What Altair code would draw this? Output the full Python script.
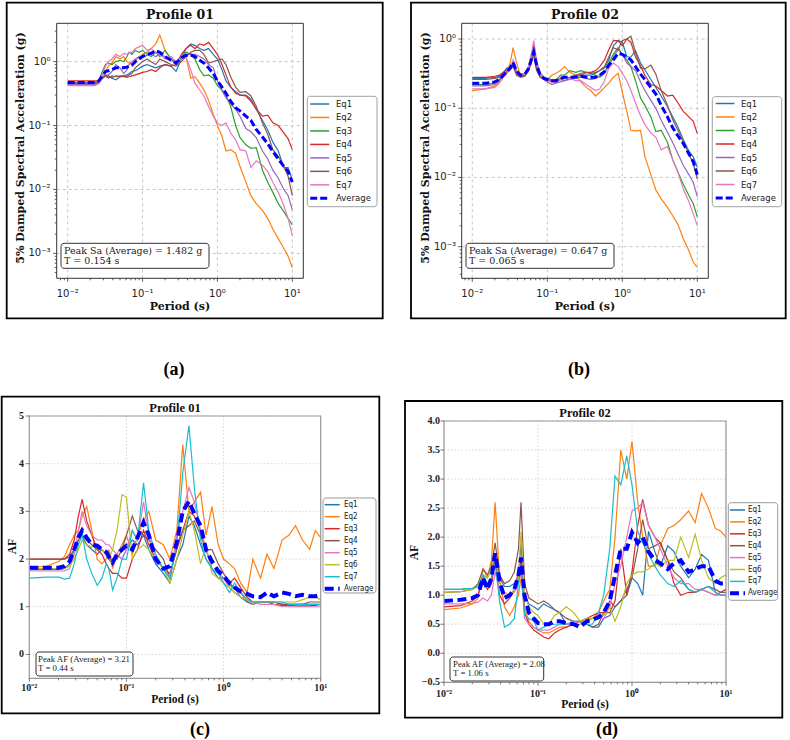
import altair as alt
import pandas as pd

# ---------------- data ----------------
periods = [0.01, 0.015, 0.02, 0.023, 0.026, 0.029, 0.032, 0.035, 0.039, 0.044,
           0.05, 0.056, 0.062, 0.066, 0.072, 0.08, 0.09, 0.1, 0.115, 0.13,
           0.15, 0.17, 0.2, 0.24, 0.28, 0.33, 0.38, 0.44, 0.5, 0.58,
           0.66, 0.76, 0.88, 1.0, 1.15, 1.3, 1.5, 1.75, 2.0, 2.4,
           2.8, 3.3, 4.0, 4.7, 5.5, 6.5, 7.7, 8.8, 10.0]
series_names = ["Eq1", "Eq2", "Eq3", "Eq4", "Eq5", "Eq6", "Eq7", "Average"]

# (a) Profile 01 - spectral acceleration (g)
a_eq1 = [0.47, 0.47, 0.47, 0.47, 0.49, 0.55, 0.62, 0.6, 0.55, 0.52,
         0.58, 0.6, 0.62, 0.65, 0.7, 0.72, 0.78, 0.85, 0.9, 0.85,
         0.8, 0.85, 0.9, 0.85, 0.7, 1.1, 1.6, 1.9, 1.8, 1.6,
         1.5, 1.6, 1.3, 1.1, 0.75, 0.5, 0.4, 0.34, 0.3, 0.3,
         0.26, 0.18, 0.12, 0.085, 0.055, 0.04, 0.022, 0.022, 0.014]
a_eq2 = [0.46, 0.46, 0.46, 0.46, 0.47, 0.55, 0.7, 0.85, 0.95, 1.2,
         1.1, 1.2, 1.0, 0.95, 0.9, 1.0, 1.2, 1.3, 1.4, 1.6,
         1.9, 2.6, 1.5, 1.1, 0.95, 1.1, 1.2, 0.55, 0.58, 0.46,
         0.36, 0.25, 0.15, 0.1, 0.068, 0.04, 0.042, 0.037, 0.023, 0.013,
         0.008, 0.006, 0.0047, 0.0035, 0.0024, 0.0017, 0.0012, 0.0009, 0.0006]
a_eq3 = [0.45, 0.45, 0.45, 0.45, 0.5, 0.7, 0.9, 0.95, 0.9, 1.0,
         1.05, 1.0, 1.2, 1.4, 1.3, 1.5, 1.4, 1.5, 1.3, 1.2,
         1.4, 1.2, 1.5, 1.1, 0.9, 1.2, 1.4, 1.3, 1.1, 0.75,
         0.6, 0.62, 0.55, 0.42, 0.36, 0.3, 0.2, 0.1, 0.065, 0.05,
         0.044, 0.045, 0.02, 0.013, 0.009, 0.006, 0.0045, 0.0035, 0.0028]
a_eq4 = [0.5, 0.5, 0.5, 0.5, 0.5, 0.55, 0.6, 0.58, 0.56, 0.6,
         0.58, 0.58, 0.57, 0.58, 0.6, 0.62, 0.65, 0.68, 0.7, 0.75,
         0.7, 0.8, 0.9, 0.85, 0.9, 1.3, 1.6, 1.8, 1.6, 1.9,
         1.8, 2.0, 1.6, 1.3, 0.9, 0.62, 0.4, 0.32, 0.3, 0.29,
         0.24, 0.18, 0.14, 0.145, 0.11, 0.1, 0.077, 0.062, 0.042]
a_eq5 = [0.44, 0.44, 0.44, 0.44, 0.46, 0.55, 0.6, 0.62, 0.7, 0.9,
         0.8, 0.65, 0.75, 0.9, 1.0, 1.1, 1.2, 1.2, 1.25, 1.3,
         1.2, 1.3, 1.2, 1.1, 1.0, 1.2, 1.3, 1.3, 1.3, 1.2,
         1.1, 0.9, 0.8, 0.5, 0.35, 0.27, 0.22, 0.18, 0.14, 0.09,
         0.08, 0.065, 0.04, 0.03, 0.02, 0.015, 0.01, 0.008, 0.0048]
a_eq6 = [0.46, 0.46, 0.46, 0.46, 0.48, 0.55, 0.6, 0.55, 0.6, 0.58,
         0.6, 0.6, 0.58, 0.62, 0.65, 0.8, 0.9, 1.0, 1.1, 1.0,
         0.9, 1.1, 1.0, 0.9, 0.85, 1.0, 1.2, 1.4, 1.5, 1.5,
         1.3, 0.95, 1.0, 1.05, 1.1, 0.9, 0.58, 0.4, 0.33, 0.34,
         0.29, 0.2, 0.11, 0.073, 0.042, 0.033, 0.023, 0.016, 0.008]
a_eq7 = [0.42, 0.42, 0.42, 0.42, 0.45, 0.6, 0.85, 1.0, 1.1, 1.3,
         1.2, 1.35, 1.3, 1.4, 1.4, 1.6, 1.7, 1.8, 1.5, 1.6,
         1.4, 1.3, 1.1, 1.2, 1.0, 1.1, 1.2, 0.75, 0.46, 0.36,
         0.29, 0.2, 0.14, 0.11, 0.1, 0.11, 0.077, 0.06, 0.042, 0.04,
         0.022, 0.028, 0.024, 0.019, 0.013, 0.009, 0.0056, 0.0035, 0.0019]
a_avg = [0.47, 0.47, 0.47, 0.47, 0.5, 0.6, 0.7, 0.72, 0.75, 0.8,
         0.8, 0.8, 0.82, 0.85, 0.88, 1.0, 1.1, 1.2, 1.3, 1.35,
         1.48, 1.4, 1.2, 1.05, 0.95, 1.15, 1.25, 1.27, 1.2, 1.05,
         0.95, 0.8, 0.65, 0.5, 0.4, 0.32, 0.24, 0.19, 0.17, 0.14,
         0.12, 0.087, 0.066, 0.052, 0.039, 0.03, 0.023, 0.019, 0.013]

# (b) Profile 02 - spectral acceleration (g)
b_eq1 = [0.27, 0.27, 0.28, 0.29, 0.33, 0.38, 0.4, 0.45, 0.33, 0.3,
         0.32, 0.38, 0.5, 0.6, 0.4, 0.32, 0.28, 0.26, 0.25, 0.25,
         0.26, 0.25, 0.27, 0.28, 0.3, 0.3, 0.3, 0.32, 0.35, 0.38,
         0.5, 0.8, 0.95, 0.9, 0.55, 0.55, 0.68, 0.45, 0.36, 0.26,
         0.2, 0.15, 0.105, 0.075, 0.054, 0.035, 0.024, 0.02, 0.014]
b_eq2 = [0.18, 0.19, 0.21, 0.24, 0.3, 0.33, 0.45, 0.75, 0.45, 0.3,
         0.31, 0.35, 0.5, 0.7, 0.4, 0.3, 0.27, 0.26, 0.3, 0.32,
         0.35, 0.4, 0.33, 0.3, 0.24, 0.2, 0.18, 0.15, 0.17, 0.2,
         0.23, 0.28, 0.32, 0.17, 0.09, 0.048, 0.047, 0.048, 0.02, 0.011,
         0.0066, 0.0049, 0.0037, 0.0028, 0.0021, 0.0013, 0.00088, 0.0006, 0.0005]
b_eq3 = [0.22, 0.22, 0.23, 0.26, 0.3, 0.33, 0.37, 0.45, 0.33, 0.3,
         0.32, 0.38, 0.6, 0.85, 0.45, 0.32, 0.28, 0.27, 0.26, 0.25,
         0.3, 0.3, 0.35, 0.33, 0.35, 0.33, 0.32, 0.3, 0.28, 0.32,
         0.45, 0.6, 0.75, 0.6, 0.5, 0.4, 0.25, 0.14, 0.11, 0.075,
         0.046, 0.048, 0.032, 0.018, 0.012, 0.008, 0.0055, 0.0042, 0.0027]
b_eq4 = [0.28, 0.28, 0.29, 0.3, 0.33, 0.36, 0.38, 0.42, 0.32, 0.29,
         0.3, 0.35, 0.5, 0.62, 0.38, 0.3, 0.27, 0.26, 0.25, 0.24,
         0.27, 0.28, 0.27, 0.3, 0.3, 0.33, 0.33, 0.35, 0.4, 0.5,
         0.7, 0.95, 0.95, 0.8, 1.0, 0.9, 0.55, 0.41, 0.3, 0.22,
         0.21, 0.18, 0.15, 0.155, 0.12, 0.09, 0.075, 0.065, 0.043]
b_eq5 = [0.21, 0.21, 0.22, 0.25, 0.3, 0.33, 0.36, 0.42, 0.32, 0.29,
         0.3, 0.36, 0.5, 0.65, 0.38, 0.3, 0.26, 0.24, 0.22, 0.23,
         0.24, 0.25, 0.26, 0.28, 0.28, 0.27, 0.26, 0.27, 0.3, 0.33,
         0.4, 0.55, 0.7, 0.6, 0.45, 0.4, 0.35, 0.24, 0.18, 0.13,
         0.1, 0.067, 0.045, 0.032, 0.022, 0.015, 0.011, 0.0085, 0.0053]
b_eq6 = [0.26, 0.26, 0.27, 0.28, 0.31, 0.34, 0.36, 0.4, 0.3, 0.28,
         0.29, 0.34, 0.48, 0.6, 0.35, 0.28, 0.26, 0.25, 0.24, 0.24,
         0.26, 0.27, 0.28, 0.3, 0.32, 0.33, 0.32, 0.33, 0.35, 0.4,
         0.55, 0.75, 0.7, 0.95, 1.0, 1.1, 0.65, 0.38, 0.37, 0.42,
         0.31, 0.18, 0.11, 0.068, 0.048, 0.032, 0.022, 0.016, 0.0095]
b_eq7 = [0.19, 0.19, 0.2, 0.23, 0.28, 0.32, 0.36, 0.5, 0.35, 0.3,
         0.32, 0.4, 0.65, 0.95, 0.5, 0.32, 0.27, 0.25, 0.24, 0.24,
         0.26, 0.27, 0.27, 0.25, 0.25, 0.22, 0.2, 0.18, 0.19, 0.25,
         0.38, 0.45, 0.4, 0.32, 0.25, 0.18, 0.12, 0.078, 0.058, 0.044,
         0.038, 0.025, 0.028, 0.018, 0.012, 0.0068, 0.0045, 0.003, 0.002]
b_avg = [0.23, 0.23, 0.24, 0.26, 0.3, 0.34, 0.38, 0.46, 0.34, 0.3,
         0.31, 0.37, 0.52, 0.647, 0.42, 0.31, 0.27, 0.26, 0.25, 0.25,
         0.27, 0.28, 0.28, 0.28, 0.29, 0.28, 0.28, 0.28, 0.3, 0.34,
         0.42, 0.5, 0.62, 0.6, 0.55, 0.5, 0.4, 0.31, 0.26, 0.2,
         0.16, 0.11, 0.075, 0.052, 0.04, 0.031, 0.022, 0.017, 0.011]

# (c) Profile 01 - amplification factor
c_eq1 = [1.78, 1.78, 1.78, 1.8, 1.9, 2.2, 2.4, 2.5, 2.3, 2.2,
         2.1, 2.2, 2.1, 2.0, 1.9, 2.1, 2.0, 2.2, 2.4, 2.3,
         2.5, 2.2, 1.9, 1.7, 1.5, 2.0, 2.3, 2.9, 2.7, 2.3,
         2.0, 1.8, 1.6, 1.6, 1.45, 1.4, 1.2, 1.1, 1.1, 1.1,
         1.1, 1.1, 1.05, 1.05, 1.05, 1.05, 1.05, 1.05, 1.05]
c_eq2 = [1.82, 1.85, 1.95, 2.05, 2.3, 2.5, 2.6, 2.9, 3.1, 2.6,
         2.0, 1.9, 2.0, 2.2, 1.8, 2.1, 2.3, 2.5, 2.1, 2.5,
         2.8, 3.0, 2.4, 2.3, 2.0, 2.6, 4.4, 3.0, 3.2, 3.4,
         2.5, 3.1, 2.3, 2.0, 1.9, 1.8, 1.5, 1.3, 2.0, 1.6,
         2.1, 1.8, 2.4, 2.5, 2.7, 2.4, 2.2, 2.6, 2.45]
c_eq3 = [2.0, 2.0, 2.0, 2.0, 2.1, 2.4, 2.9, 3.25, 2.8, 2.5,
         2.2, 2.1, 1.9, 1.8, 1.7, 1.7, 1.6, 1.6, 2.0, 2.2,
         2.6, 2.3, 2.0, 1.8, 1.7, 2.2, 2.6, 3.0, 2.9, 2.6,
         2.2, 1.8, 1.7, 1.6, 1.5, 1.6, 1.4, 1.2, 1.1, 1.1,
         1.1, 1.05, 1.03, 1.03, 1.02, 1.02, 1.02, 1.03, 1.05]
c_eq4 = [2.0, 2.0, 2.0, 2.0, 2.05, 2.2, 2.4, 2.5, 2.4, 2.3,
         2.2, 2.2, 2.1, 2.0, 2.0, 2.0, 2.2, 2.5, 2.9, 2.6,
         2.5, 2.4, 2.2, 2.0, 1.6, 2.3, 2.6, 2.7, 2.8, 2.5,
         2.2, 2.2, 1.9, 1.7, 1.5, 1.4, 1.3, 1.1, 1.05, 1.1,
         1.1, 1.1, 1.05, 1.05, 1.05, 1.05, 1.1, 1.1, 1.1]
c_eq5 = [1.75, 1.75, 1.75, 1.75, 1.8, 2.1, 2.6, 3.0, 2.7, 2.5,
         2.4, 2.4, 2.3, 2.3, 2.2, 2.1, 2.0, 2.2, 2.6, 2.4,
         3.2, 2.5, 2.0, 1.8, 1.6, 2.5, 3.0, 3.5, 3.2, 2.6,
         2.2, 1.8, 1.7, 1.6, 1.4, 1.3, 1.2, 1.15, 1.1, 1.05,
         1.05, 1.05, 1.0, 1.0, 1.0, 1.0, 1.0, 1.0, 1.0]
c_eq6 = [1.8, 1.8, 1.8, 1.8, 1.85, 2.0, 2.2, 2.4, 2.3, 2.25,
         2.3, 2.2, 2.1, 2.0, 2.2, 2.6, 3.35, 3.3, 2.0, 2.2,
         2.3, 2.2, 2.0, 1.8, 1.5, 2.0, 2.5, 3.0, 2.6, 1.9,
         2.3, 1.7, 1.6, 1.5, 1.4, 1.3, 1.2, 1.15, 1.1, 1.1,
         1.1, 1.1, 1.1, 1.1, 1.1, 1.15, 1.2, 1.2, 1.15]
c_eq7 = [1.6, 1.62, 1.62, 1.58, 1.6, 1.9, 2.3, 2.5, 2.0, 1.7,
         1.45, 1.6, 1.9, 1.8, 1.35, 1.6, 2.0, 2.0, 2.6, 2.4,
         3.6, 2.6, 2.1, 1.8, 1.6, 2.3, 3.8, 4.8, 3.5, 2.4,
         2.0, 1.8, 1.7, 1.5, 1.3, 1.5, 1.3, 1.15, 1.1, 1.1,
         1.1, 1.1, 1.1, 1.05, 1.05, 1.05, 1.05, 1.05, 1.05]
c_avg = [1.82, 1.82, 1.82, 1.85, 1.95, 2.2, 2.45, 2.6, 2.45, 2.3,
         2.28, 2.2, 2.15, 2.05, 1.93, 2.1, 2.2, 2.28, 2.2, 2.45,
         2.77, 2.5, 2.0, 1.8, 1.85, 2.35, 3.0, 3.21, 2.95, 2.7,
         2.2, 1.95, 1.75, 1.65, 1.5, 1.4, 1.32, 1.27, 1.22, 1.2,
         1.3, 1.22, 1.3, 1.27, 1.22, 1.25, 1.22, 1.22, 1.25]

# (d) Profile 02 - amplification factor
d_eq1 = [1.1, 1.1, 1.12, 1.15, 1.3, 1.2, 1.3, 1.7, 1.3, 1.15,
         1.15, 1.2, 1.3, 1.9, 1.0, 0.85, 0.8, 0.75, 0.85, 0.8,
         0.75, 0.7, 0.5, 0.5, 0.55, 0.5, 0.45, 0.45, 0.6, 0.65,
         0.8, 0.9, 1.0, 1.3, 1.2, 1.0, 2.1, 1.75, 1.5, 1.85,
         1.75, 1.5, 1.3, 1.45, 1.7, 1.6, 1.05, 1.0, 1.0]
d_eq2 = [0.75, 0.78, 0.85, 0.95, 1.45, 1.3, 1.6, 2.6, 1.3, 0.8,
         0.65, 0.8, 1.0, 1.3, 0.8, 0.55, 0.45, 0.4, 0.35, 0.35,
         0.4, 0.45, 0.45, 0.5, 0.5, 0.55, 0.6, 0.7, 0.9, 1.1,
         2.0, 3.5, 3.0, 3.65, 2.6, 2.0, 1.5, 1.5, 1.85, 2.15,
         2.2, 2.3, 2.45, 2.25, 2.75, 2.5, 2.15, 2.1, 2.0]
d_eq3 = [0.8, 0.82, 0.9, 1.0, 1.3, 1.1, 1.2, 1.6, 1.0, 0.85,
         0.95, 1.1, 1.4, 1.6, 0.7, 0.5, 0.4, 0.35, 0.28, 0.25,
         0.35, 0.4, 0.45, 0.5, 0.55, 0.6, 0.65, 0.7, 0.7, 0.7,
         0.9, 1.8, 1.0, 1.4, 2.2, 2.65, 2.2, 2.0, 1.9, 1.6,
         1.2, 1.0, 1.05, 1.05, 1.1, 1.05, 1.0, 1.05, 1.1]
d_eq4 = [1.05, 1.06, 1.1, 1.2, 1.45, 1.35, 1.5, 1.9, 1.35, 1.2,
         1.25, 1.4, 1.8, 2.6, 1.2, 0.95, 0.9, 0.85, 0.9, 0.85,
         0.75, 0.7, 0.6, 0.55, 0.55, 0.5, 0.45, 0.5, 0.7, 0.9,
         0.8, 0.9, 1.1, 1.3, 1.8, 2.3, 1.8, 1.85, 1.9, 1.6,
         1.4, 1.3, 1.1, 1.05, 1.1, 1.15, 1.1, 1.05, 1.05]
d_eq5 = [0.85, 0.85, 0.86, 0.88, 0.95, 0.9, 1.0, 1.4, 1.1, 1.0,
         1.0, 1.05, 1.2, 1.4, 0.6, 0.5, 0.45, 0.4, 0.4, 0.4,
         0.45, 0.5, 0.5, 0.5, 0.55, 0.55, 0.6, 0.6, 0.6, 0.8,
         1.2, 1.5, 2.0, 2.45, 2.5, 2.6, 2.2, 2.0, 1.8, 1.5,
         1.3, 1.2, 1.2, 1.1, 1.1, 1.05, 1.0, 1.0, 1.0]
d_eq6 = [1.05, 1.06, 1.1, 1.15, 1.35, 1.3, 1.45, 1.7, 1.2, 1.05,
         1.0, 1.1, 1.3, 2.1, 1.0, 0.8, 0.7, 0.65, 0.5, 0.5,
         0.65, 0.7, 0.8, 0.7, 0.55, 0.6, 0.6, 0.65, 0.65, 0.8,
         0.55, 0.8, 1.2, 1.35, 1.4, 1.4, 1.45, 1.55, 1.5, 1.6,
         1.6, 2.0, 1.65, 2.05, 1.6, 1.3, 1.2, 1.3, 1.35]
d_eq7 = [1.1, 1.1, 1.12, 1.15, 1.35, 1.2, 1.3, 1.55, 0.9, 0.45,
         0.5, 0.6, 1.2, 1.5, 0.65, 0.6, 0.55, 0.4, 0.45, 0.5,
         0.5, 0.5, 0.5, 0.55, 0.55, 0.5, 0.5, 0.7, 1.0, 1.8,
         3.05, 2.9, 3.4, 2.9, 2.1, 1.9, 1.7, 1.5, 1.35, 1.2,
         1.15, 1.25, 1.1, 1.05, 1.1, 1.15, 1.05, 1.0, 1.0]
d_avg = [0.9, 0.92, 0.95, 1.0, 1.3, 1.1, 1.3, 1.72, 1.25, 0.95,
         1.0, 1.1, 1.35, 1.65, 1.0, 0.7, 0.6, 0.52, 0.5, 0.5,
         0.55, 0.55, 0.52, 0.5, 0.45, 0.55, 0.58, 0.62, 0.7, 0.9,
         1.35, 1.8, 1.8, 2.08, 1.9, 2.0, 1.75, 1.6, 1.55, 1.45,
         1.55, 1.6, 1.4, 1.45, 1.5, 1.5, 1.25, 1.2, 1.2]

panel_titles = ["Profile 01", "Profile 02", "Profile 01", "Profile 02"]
panel_letters = ["(a)", "(b)", "(c)", "(d)"]
peak_values = [1.482, 0.647, 3.21, 2.08]
peak_periods = [0.154, 0.065, 0.44, 1.06]

colors_top = ["#1f77b4", "#ff7f0e", "#2ca02c", "#d62728", "#9467bd", "#8c564b", "#e377c2", "#0000ff"]
colors_bottom = ["#1f77b4", "#ff7f0e", "#d62728", "#8c564b", "#e377c2", "#bcbd22", "#17becf", "#0000ff"]

decade_values = [0.0001, 0.001, 0.01, 0.1, 1.0, 10.0]
decade_labels = ["10⁻⁴", "10⁻³", "10⁻²", "10⁻¹", "10⁰", "10¹"]
mantissas = [2, 3, 4, 5, 6, 7, 8, 9]
af_ticks_c = [0, 1, 2, 3, 4, 5]
af_ticks_d = [-0.5, 0.0, 0.5, 1.0, 1.5, 2.0, 2.5, 3.0, 3.5, 4.0]

# ---------------- helpers ----------------
ONE = pd.DataFrame({"k": [0]})


def in_dom(v, dom):
    return dom[0] * 0.999 <= v <= dom[1] * 1.001


def major_df(dom):
    return pd.DataFrame({"v": [v for v in decade_values if in_dom(v, dom)],
                         "lab": [l for v, l in zip(decade_values, decade_labels) if in_dom(v, dom)]})


def minor_df(dom):
    return pd.DataFrame({"v": [m * d for d in decade_values for m in mantissas if in_dom(m * d, dom)]})


def rect(x0, x1, y0, y1, **kw):
    return alt.Chart(ONE).mark_rect(**kw).encode(
        x=alt.value(x0), x2=alt.value(x1), y=alt.value(y0), y2=alt.value(y1))


def label(text, x, y, **kw):
    return alt.Chart(pd.DataFrame({"t": [text]})).mark_text(**kw).encode(
        text="t:N", x=alt.value(x), y=alt.value(y))


def build_panel(p):
    x0, x1, y0, y1 = p["plot"]
    xs = alt.Scale(type="log", domain=p["xdom"], range=[x0, x1], nice=False)
    if p["ylog"]:
        ys = alt.Scale(type="log", domain=p["ydom"], range=[y1, y0], nice=False)
    else:
        ys = alt.Scale(type="linear", domain=p["ydom"], range=[y1, y0], nice=False, zero=False)

    def X(f):
        return alt.X(f, scale=xs, axis=None)

    def Y(f):
        return alt.Y(f, scale=ys, axis=None)

    rows = []
    for name, vals, col in zip(series_names, p["lists"], p["colors"]):
        for t, v in zip(periods, vals):
            rows.append({"period": t, "value": v, "series": name, "hex": col})
    df = pd.DataFrame(rows)
    df_eq = df[df["series"] != "Average"]
    df_avg = df[df["series"] == "Average"]

    xmaj = major_df(p["xdom"])
    xmin = minor_df(p["xdom"])
    if p["ylog"]:
        ymaj = major_df(p["ydom"])
        ymin = minor_df(p["ydom"])
    else:
        ymaj = pd.DataFrame({"v": p["yticks"]})
        ymin = None

    gkw = dict(color=p["grid_color"], strokeDash=p["grid_dash"], strokeWidth=0.8)
    layers = [
        alt.Chart(xmaj).mark_rule(**gkw).encode(x=X("v:Q"), y=alt.value(y0), y2=alt.value(y1)),
        alt.Chart(ymaj).mark_rule(**gkw).encode(y=Y("v:Q"), x=alt.value(x0), x2=alt.value(x1)),
        alt.Chart(df_eq).mark_line(strokeWidth=p["eq_w"]).encode(
            x=X("period:Q"), y=Y("value:Q"), color=alt.Color("hex:N", scale=None), detail="series:N"),
        alt.Chart(df_avg).mark_line(color=p["colors"][7], strokeWidth=p["avg_w"], strokeDash=p["avg_dash"]).encode(
            x=X("period:Q"), y=Y("value:Q")),
        rect(x0, x1, y0, y1, fill="white", fillOpacity=0, stroke=p["spine"], strokeWidth=p["spine_w"]),
    ]
    tkw = dict(color=p["tick_color"], strokeWidth=0.8)
    layers.append(alt.Chart(xmaj).mark_rule(**tkw).encode(x=X("v:Q"), y=alt.value(y1), y2=alt.value(y1 + 3.5)))
    layers.append(alt.Chart(xmin).mark_rule(**tkw).encode(x=X("v:Q"), y=alt.value(y1), y2=alt.value(y1 + 2)))
    layers.append(alt.Chart(ymaj).mark_rule(**tkw).encode(y=Y("v:Q"), x=alt.value(x0 - 3.5), x2=alt.value(x0)))
    if ymin is not None:
        layers.append(alt.Chart(ymin).mark_rule(**tkw).encode(y=Y("v:Q"), x=alt.value(x0 - 2), x2=alt.value(x0)))

    lkw = dict(font=p["tick_font"], fontSize=p["tick_size"], fontWeight=p["tick_weight"], color="#222")
    layers.append(alt.Chart(xmaj).mark_text(align="center", baseline="alphabetic", **lkw).encode(
        x=X("v:Q"), y=alt.value(p["xlab_base"]), text="lab:N"))
    if p["ylog"]:
        layers.append(alt.Chart(ymaj).mark_text(align="right", baseline="middle", **lkw).encode(
            y=Y("v:Q"), x=alt.value(p["ylab_right"]), text="lab:N"))
    else:
        layers.append(alt.Chart(ymaj).mark_text(align="right", baseline="middle", **lkw).encode(
            y=Y("v:Q"), x=alt.value(p["ylab_right"]), text=alt.Text("v:Q", format=p["yfmt"])))

    # titles
    akw = dict(font=p["lab_font"], fontSize=p["lab_size"], fontWeight="bold", color="#111")
    layers.append(label("Period (s)", (x0 + x1) / 2, p["xtitle_base"], align="center", baseline="alphabetic", **akw))
    layers.append(label(p["ytitle"], p["ytitle_base"], p["ytitle_cy"], align="center", baseline="alphabetic",
                        angle=270, **akw))
    layers.append(label(p["title"], (x0 + x1) / 2, p["title_base"], align="center", baseline="alphabetic",
                        font=p["title_font"], fontSize=p["title_size"], fontWeight="bold", color="#111"))

    # legend
    lg = p["legend"]
    layers.append(rect(*lg["box"], fill="white", stroke=lg["stroke"], strokeWidth=1, cornerRadius=3))
    for i, name in enumerate(series_names):
        yy = lg["row0"] + i * lg["step"]
        kw = dict(color=p["colors"][i], strokeWidth=p["eq_w"] + 0.3)
        if name == "Average":
            kw = dict(color=p["colors"][i], strokeWidth=p["avg_w"], strokeDash=p["avg_dash"])
        layers.append(alt.Chart(pd.DataFrame({"s": [name]})).mark_rule(**kw).encode(
            x=alt.value(lg["sx0"]), x2=alt.value(lg["sx1"]), y=alt.value(yy)))
        layers.append(label(name, lg["tx"], yy, align="left", baseline="middle", font=lg["font"],
                            fontSize=lg["size"], color="#222"))

    # peak annotation box
    pb = p["pbox"]
    layers.append(rect(*pb["box"], fill="white", stroke="#333", strokeWidth=1, cornerRadius=3))
    for line, yy in zip(pb["lines"], pb["ys"]):
        layers.append(label(line, pb["tx"], yy, align="left", baseline="middle", font=pb["font"],
                            fontSize=pb["size"], color="#222"))

    # outer border and panel letter
    layers.append(rect(*p["border"], fill="white", fillOpacity=0, stroke="#000", strokeWidth=1.8))
    layers.append(label(p["letter"], p["letter_xy"][0], p["letter_xy"][1], align="center", baseline="middle",
                        font="Liberation Serif", fontSize=18, fontWeight="bold", color="#000"))
    return alt.layer(*layers)


top_common = dict(
    colors=colors_top, ylog=True, eq_w=1.2, avg_w=3, avg_dash=[7, 3],
    tick_color="#333", grid_color="#b8b8b8", grid_dash=[3, 3],
    tick_font="DejaVu Sans", tick_size=10, tick_weight="normal",
    lab_font="DejaVu Serif", lab_size=11, ytitle="5% Damped Spectral Acceleration (g)",
    title_font="DejaVu Serif", title_size=12.5, title_base=19.3,
    xlab_base=296.5, xtitle_base=309.5, ytitle_cy=148,
    spine="#333", spine_w=1,
)
bot_common = dict(
    colors=colors_bottom, ylog=False, eq_w=1.2, avg_w=4, avg_dash=[9, 4.5],
    tick_color="#555", grid_color="#cccccc", grid_dash=[1.5, 2],
    tick_font="Liberation Serif", tick_size=10, tick_weight="bold",
    lab_font="Liberation Serif", lab_size=11.5, ytitle="AF",
    title_font="Liberation Serif", title_size=12.5,
    spine="#999", spine_w=1.2,
)
bot_font = "Liberation Sans Narrow, DejaVu Sans Condensed, Liberation Sans"

pa = dict(top_common,
          lists=[a_eq1, a_eq2, a_eq3, a_eq4, a_eq5, a_eq6, a_eq7, a_avg],
          plot=(56.7, 303.3, 23.3, 278.3), xdom=[0.00713, 14.03], ydom=[0.000407, 3.98],
          ylab_right=50.5, ytitle_base=24,
          border=(6.7, 382.7, 2.7, 318.3), letter=panel_letters[0], letter_xy=(174, 370),
          title=panel_titles[0],
          legend=dict(box=(307.3, 377.0, 96.3, 206.7), sx0=310.2, sx1=329.2, tx=336, row0=104, step=13.47,
                      font="DejaVu Sans", size=8.5, stroke="#a0a0a0"),
          pbox=dict(box=(61, 209, 243.3, 268.3), tx=64, ys=(250.7, 260.9), font="DejaVu Serif", size=9.5,
                    lines=[f"Peak Sa (Average) = {peak_values[0]:.3f} g", f"T = {peak_periods[0]:.3f} s"]))
pb_ = dict(top_common,
           lists=[b_eq1, b_eq2, b_eq3, b_eq4, b_eq5, b_eq6, b_eq7, b_avg],
           plot=(461.7, 708.3, 23.3, 278.3), xdom=[0.00723, 14.0], ydom=[0.000349, 1.687],
           ylab_right=456, ytitle_base=428.5,
           border=(411, 785.7, 2.7, 318.3), letter=panel_letters[1], letter_xy=(579, 370),
           title=panel_titles[1],
           legend=dict(box=(712.3, 781.7, 96.7, 206.7), sx0=715.7, sx1=734.5, tx=741, row0=103.5, step=13.5,
                       font="DejaVu Sans", size=8.5, stroke="#a0a0a0"),
           pbox=dict(box=(466, 614, 243.3, 268.3), tx=469, ys=(250.7, 260.9), font="DejaVu Serif", size=9.5,
                     lines=[f"Peak Sa (Average) = {peak_values[1]:.3f} g", f"T = {peak_periods[1]:.3f} s"]))
pc_ = dict(bot_common,
           lists=[c_eq1, c_eq2, c_eq3, c_eq4, c_eq5, c_eq6, c_eq7, c_avg],
           plot=(29.3, 320.7, 416, 678.3), xdom=[0.01, 10.0], ydom=[-0.5, 5.0], yticks=af_ticks_c, yfmt="d",
           ylab_right=24, ytitle_base=16, ytitle_cy=546.7, xlab_base=691, xtitle_base=702.5, title_base=411.5,
           border=(1.7, 379.3, 396.7, 713.3), letter=panel_letters[2], letter_xy=(200, 730),
           title=panel_titles[2],
           legend=dict(box=(323, 376, 498, 593), sx0=324.7, sx1=339.7, tx=344, row0=504.7, step=12,
                       font=bot_font, size=8, stroke="#999"),
           pbox=dict(box=(36, 133, 652, 676), tx=38, ys=(659.3, 668.2), font="Liberation Serif", size=8.8,
                     lines=[f"Peak AF (Average) = {peak_values[2]:.2f}", f"T = {peak_periods[2]:.2f} s"]))
pd_ = dict(bot_common,
           lists=[d_eq1, d_eq2, d_eq3, d_eq4, d_eq5, d_eq6, d_eq7, d_avg],
           plot=(444, 726, 421, 682.3), xdom=[0.01, 10.0], ydom=[-0.5, 4.0], yticks=af_ticks_d, yfmt=".1f",
           ylab_right=440, ytitle_base=418.3, ytitle_cy=552.7, xlab_base=696.5, xtitle_base=707.5, title_base=416.5,
           border=(405, 782.3, 401, 717.7), letter=panel_letters[3], letter_xy=(607, 730),
           title=panel_titles[3],
           legend=dict(box=(728.3, 777.7, 502.7, 600.3), sx0=730, sx1=745, tx=748, row0=510, step=11.9,
                       font=bot_font, size=8, stroke="#999"),
           pbox=dict(box=(450, 543.7, 657, 681), tx=453, ys=(663.7, 672.8), font="Liberation Serif", size=8.8,
                     lines=[f"Peak AF (Average) = {peak_values[3]:.2f}", f"T = {peak_periods[3]:.2f} s"]))

chart = alt.layer(
    build_panel(pa), build_panel(pb_), build_panel(pc_), build_panel(pd_)
).resolve_scale(
    x="independent", y="independent"
).properties(
    width=790, height=740, padding=0, autosize="none", background="white"
).configure_view(strokeWidth=0)

chart.save("out.html", embed_options={"renderer": "svg", "actions": False})
